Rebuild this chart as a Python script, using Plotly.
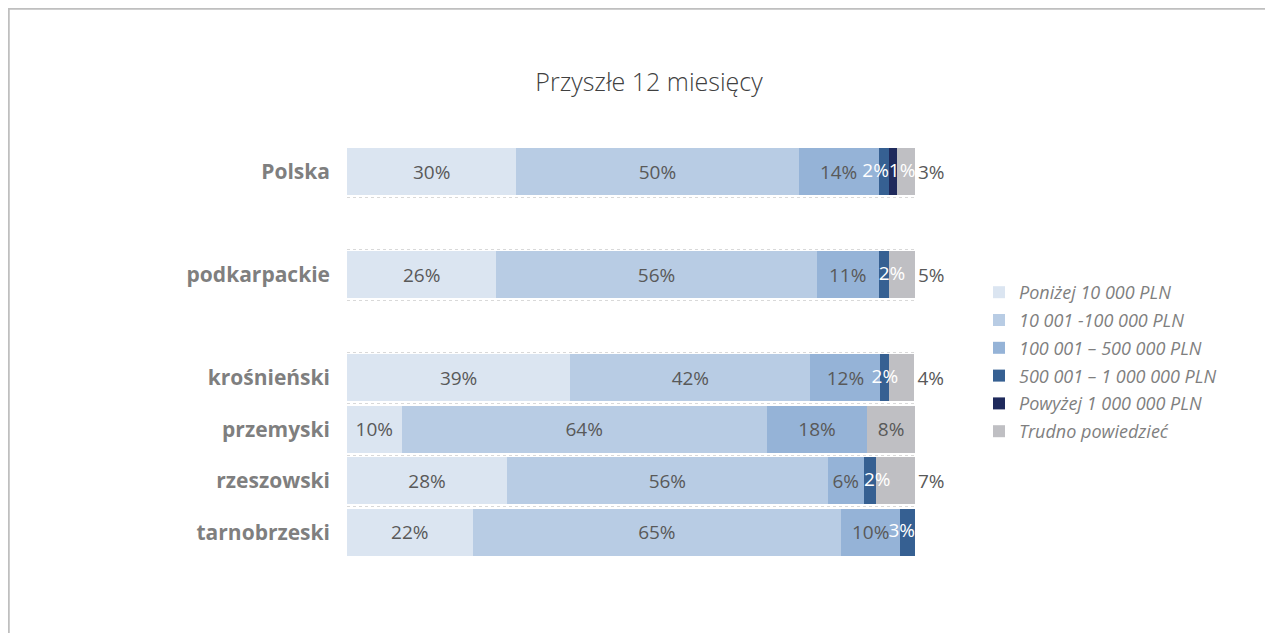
import plotly.graph_objects as go

# ---------------- data ----------------
regions = ["Polska", "podkarpackie", "krośnieński", "przemyski", "rzeszowski", "tarnobrzeski"]
# category slots on the axis (blank spacer rows between groups)
axis_order = ["Polska", " ", "podkarpackie", "  ", "krośnieński", "przemyski", "rzeszowski", "tarnobrzeski"]

series_names = [
    "Poniżej 10 000 PLN",
    "10 001 -100 000 PLN",
    "100 001 – 500 000 PLN",
    "500 001 – 1 000 000 PLN",
    "Powyżej 1 000 000 PLN",
    "Trudno powiedzieć",
]
below_10k = [29.8, 26.3, 39.3, 9.6, 28.2, 22.1]
from_10k_to_100k = [49.7, 56.4, 42.3, 64.3, 56.4, 64.9]
from_100k_to_500k = [14.1, 10.9, 12.3, 17.7, 6.4, 10.4]
from_500k_to_1m = [1.8, 1.8, 1.6, None, 2.1, 2.6]
above_1m = [1.4, None, None, None, None, None]
hard_to_say = [3.2, 4.6, 4.4, 8.4, 6.9, None]

title_text = "Przyszłe 12 miesięcy"

# ---------------- styles ----------------
OFF = 8  # page body margin: page pixel p -> figure pixel p - OFF
W, H = 1265, 625
M = dict(l=347 - OFF, r=W - (915 - OFF), t=146 - OFF, b=H - (558 - OFF))
PW = W - M["l"] - M["r"]
PH = H - M["t"] - M["b"]
FONT = "'Open Sans', Lato, sans-serif"
DARK = "#595959"
GREY = "#7f7f7f"
LABEL_SIZE = 19

colors = ["#dbe5f1", "#b8cce4", "#95b3d7", "#366092", "#1f2a5c", "#bfbfc3"]
label_colors = [DARK, DARK, DARK, "white", "white", DARK]
all_series = [below_10k, from_10k_to_100k, from_100k_to_500k, from_500k_to_1m, above_1m, hard_to_say]
# label placement of the thin segments (relative to the segment), as Excel nudged them
thin_label_pos = {
    3: ["middle left", "middle right", "middle center", None, "middle right", "middle left"],
    4: ["middle right", None, None, None, None, None],
}


def px_x(page_px):
    return (page_px - OFF - M["l"]) / PW


def px_y(page_py):
    return (H - M["b"] - (page_py - OFF)) / PH


def fmt(v):
    return f"{v:.0f}%" if v else ""


fig = go.Figure()
for i, (name, vals) in enumerate(zip(series_names, all_series)):
    text = [fmt(v) for v in vals]
    if i == len(all_series) - 1:
        tpos = ["inside" if (v is not None and v >= 8) else "outside" for v in vals]
    elif i in thin_label_pos:
        tpos = "none"
    else:
        tpos = "inside"
    fig.add_trace(go.Bar(
        name=name,
        y=regions,
        x=vals,
        orientation="h",
        marker=dict(color=colors[i], line=dict(width=0)),
        text=text,
        textposition=tpos,
        insidetextanchor="middle",
        textangle=0,
        constraintext="none",
        cliponaxis=False,
        textfont=dict(family=FONT, size=LABEL_SIZE, color=label_colors[i]),
        insidetextfont=dict(family=FONT, size=LABEL_SIZE, color=label_colors[i]),
        outsidetextfont=dict(family=FONT, size=LABEL_SIZE, color=DARK),
        legendgroup=f"g{i}",
        hoverinfo="name+x",
    ))

# labels of thin segments, placed from the cumulative stack positions
cum_start = [0.0] * len(regions)
for i, vals in enumerate(all_series):
    if i in thin_label_pos:
        xs, ys, ts, ps = [], [], [], []
        for j, v in enumerate(vals):
            if not v:
                continue
            pos = thin_label_pos[i][j]
            start, end = cum_start[j], cum_start[j] + v
            x = {"middle left": end, "middle right": start}.get(pos, (start + end) / 2)
            xs.append(x)
            ys.append(regions[j])
            ts.append(fmt(v))
            ps.append(pos)
        fig.add_trace(go.Scatter(
            x=xs, y=ys, text=ts, mode="text", textposition=ps,
            textfont=dict(family=FONT, size=LABEL_SIZE, color=label_colors[i]),
            showlegend=False, hoverinfo="skip", cliponaxis=False,
        ))
    cum_start = [c + (v or 0) for c, v in zip(cum_start, vals)]

fig.update_layout(
    width=W,
    height=H,
    margin=M,
    barmode="stack",
    bargap=0.08,
    paper_bgcolor="white",
    plot_bgcolor="white",
    font=dict(family=FONT, color=DARK),
    title=dict(
        text=title_text,
        x=(649 - OFF) / W,
        xref="container",
        y=1 - (82 - OFF) / H,
        yref="container",
        xanchor="center",
        yanchor="middle",
        font=dict(family=FONT, size=25, color="#404040", weight=300),
    ),
    xaxis=dict(
        range=[0, 100],
        showticklabels=False,
        showgrid=False,
        zeroline=False,
        showline=False,
        fixedrange=True,
    ),
    yaxis=dict(
        type="category",
        categoryorder="array",
        categoryarray=axis_order,
        range=[len(axis_order) - 0.5, -0.5],
        tickson="boundaries",
        ticks="",
        showgrid=True,
        gridcolor="#d9d9d9",
        gridwidth=1,
        griddash="dot",
        ticklabelstandoff=16,
        tickfont=dict(family=FONT, size=21, color=GREY, weight="bold"),
        showline=False,
        zeroline=False,
    ),
    legend=dict(
        x=px_x(979),
        y=px_y(274),
        xanchor="left",
        yanchor="top",
        traceorder="grouped",
        tracegroupgap=1.4,
        font=dict(family=FONT, size=18, color=GREY, style="italic"),
        bgcolor="rgba(0,0,0,0)",
        borderwidth=0,
    ),
    shapes=[
        dict(
            type="rect",
            xref="paper",
            yref="paper",
            x0=px_x(8.5),
            x1=px_x(1272),
            y0=px_y(650),
            y1=px_y(8.5),
            line=dict(color="#bfbfbf", width=2.5),
            fillcolor="rgba(0,0,0,0)",
            layer="below",
        )
    ],
)

fig.write_html("out.html")
